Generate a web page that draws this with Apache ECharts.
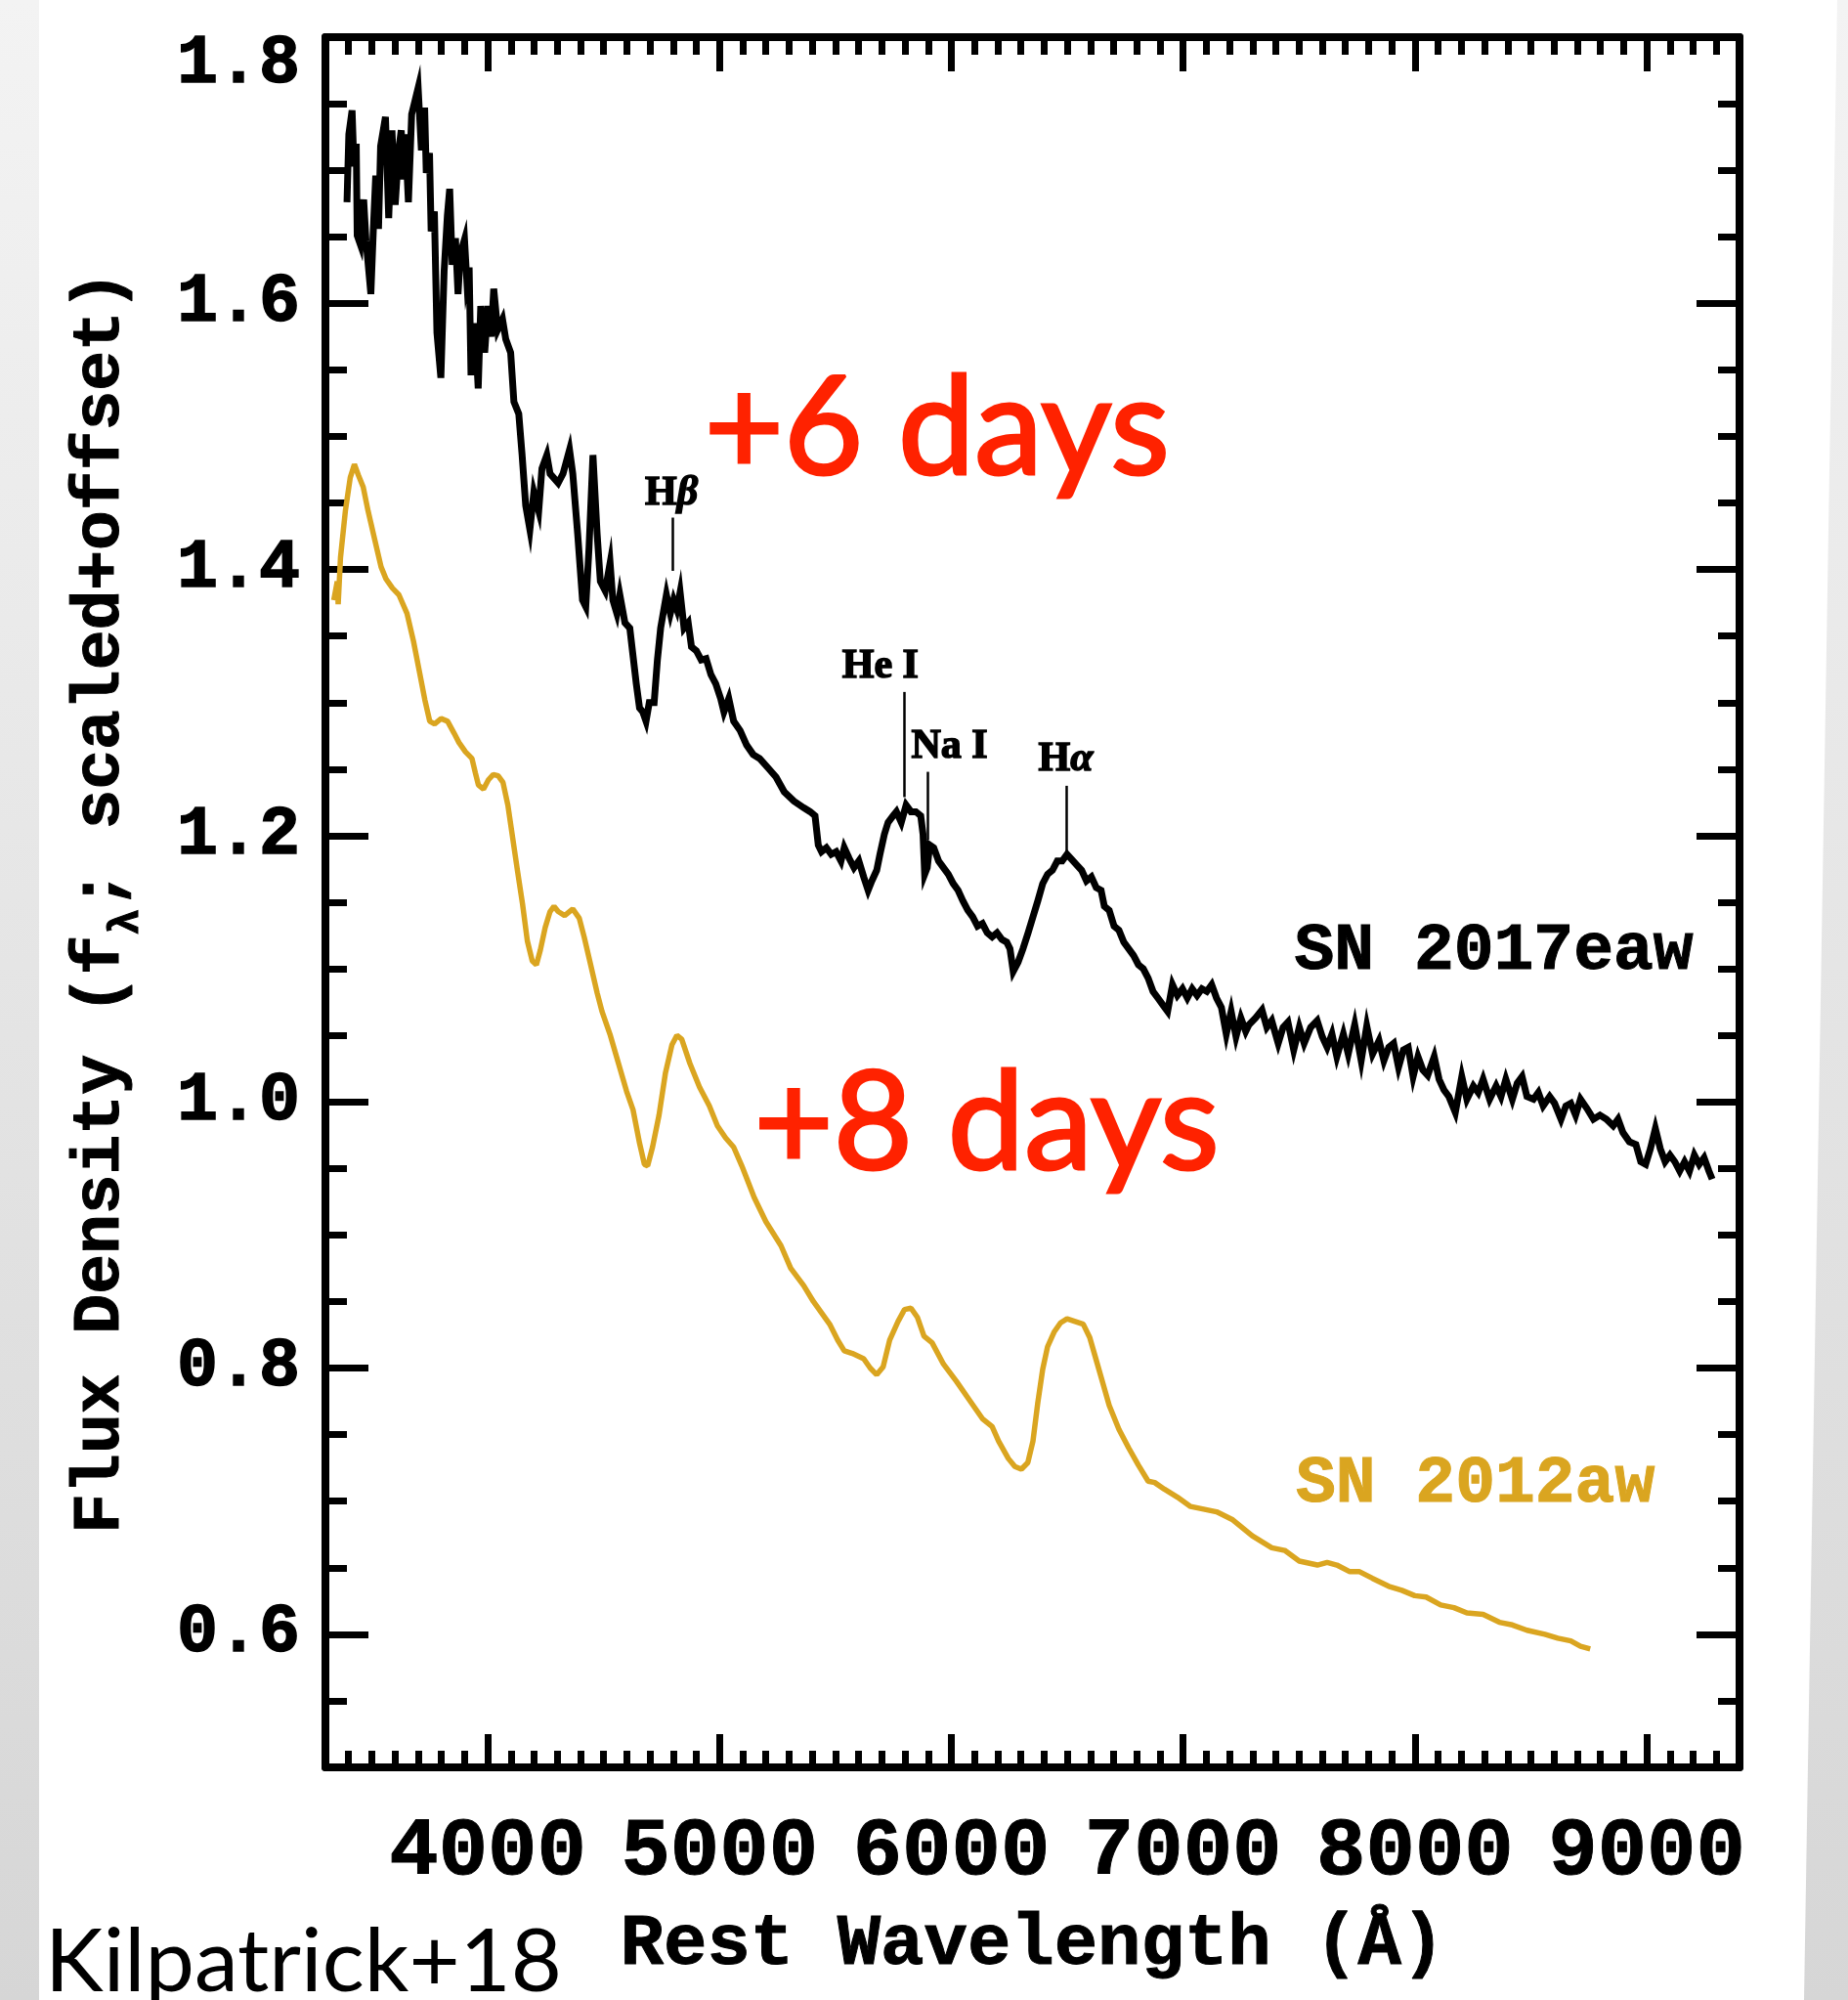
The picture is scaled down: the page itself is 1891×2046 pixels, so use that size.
<!DOCTYPE html>
<html>
<head>
<meta charset="utf-8">
<title>SN 2017eaw vs SN 2012aw</title>
<script src="https://cdn.jsdelivr.net/npm/echarts@6/dist/echarts.min.js"></script>
<style>
  html, body { margin: 0; padding: 0; background: #fff; }
  #chart { width: 1891px; height: 2046px; }
</style>
</head>
<body>
<div id="chart"></div>
<script>
// axis ticks
const waveMajor = [4000, 5000, 6000, 7000, 8000, 9000];
const fluxMajor = [0.6, 0.8, 1.0, 1.2, 1.4, 1.6, 1.8];

// SN 2017eaw (+6 days)
const eawWave = [3393, 3401, 3415, 3423, 3433, 3437, 3451, 3465, 3475, 3482, 3496, 3508, 3517, 3529, 3538, 3559, 3573, 3587, 3601, 3616,
  3627, 3637, 3644, 3658, 3672, 3700, 3714, 3728, 3735, 3749, 3756, 3770, 3781, 3798, 3812, 3826, 3836, 3847, 3861, 3872,
  3882, 3900, 3910, 3920, 3928, 3945, 3959, 3970, 3987, 4001, 4015, 4026, 4043, 4064, 4078, 4099, 4113, 4134, 4148, 4164,
  4182, 4199, 4220, 4234, 4255, 4269, 4304, 4325, 4353, 4367, 4388, 4409, 4423, 4437, 4454, 4472, 4486, 4507, 4528, 4540,
  4557, 4570, 4592, 4613, 4627, 4641, 4655, 4669, 4683, 4697, 4718, 4732, 4746, 4760, 4771, 4788, 4802, 4816, 4830, 4847,
  4865, 4879, 4900, 4921, 4942, 4963, 4984, 5005, 5019, 5040, 5061, 5089, 5117, 5145, 5173, 5209, 5244, 5279, 5321, 5363,
  5391, 5412, 5426, 5440, 5461, 5482, 5503, 5524, 5538, 5559, 5580, 5601, 5622, 5641, 5657, 5678, 5692, 5711, 5727, 5749,
  5763, 5784, 5805, 5826, 5847, 5868, 5878, 5885, 5896, 5907, 5924, 5945, 5966, 5987, 6008, 6029, 6050, 6071, 6092, 6113,
  6134, 6155, 6176, 6197, 6218, 6239, 6253, 6267, 6288, 6309, 6331, 6352, 6373, 6394, 6415, 6436, 6457, 6478, 6499, 6520,
  6541, 6562, 6583, 6604, 6625, 6646, 6660, 6681, 6702, 6723, 6744, 6765, 6786, 6807, 6828, 6849, 6870, 6891, 6912, 6933,
  6954, 6975, 6997, 7018, 7039, 7060, 7081, 7102, 7123, 7144, 7165, 7186, 7207, 7228, 7249, 7270, 7284, 7312, 7340, 7361,
  7382, 7410, 7431, 7452, 7477, 7501, 7522, 7550, 7578, 7600, 7621, 7642, 7663, 7691, 7712, 7740, 7768, 7792, 7817, 7845,
  7866, 7887, 7908, 7929, 7950, 7971, 7992, 8013, 8034, 8055, 8083, 8104, 8125, 8146, 8174, 8202, 8224, 8252, 8273, 8294,
  8322, 8350, 8371, 8392, 8420, 8441, 8462, 8483, 8511, 8532, 8553, 8581, 8602, 8630, 8651, 8672, 8693, 8714, 8742, 8770,
  8798, 8826, 8855, 8876, 8897, 8925, 8953, 8974, 8995, 9016, 9037, 9058, 9079, 9100, 9121, 9142, 9163, 9184, 9205, 9226,
  9247, 9268, 9282];
const eawFlux = [1.676, 1.727, 1.745, 1.703, 1.720, 1.651, 1.644, 1.678, 1.647, 1.634, 1.607, 1.661, 1.696, 1.656, 1.718, 1.740, 1.664, 1.730, 1.674, 1.715,
  1.730, 1.693, 1.727, 1.676, 1.742, 1.762, 1.715, 1.747, 1.698, 1.713, 1.654, 1.669, 1.578, 1.544, 1.624, 1.666, 1.686, 1.629, 1.649, 1.607,
  1.637, 1.648, 1.617, 1.627, 1.546, 1.585, 1.536, 1.598, 1.563, 1.598, 1.575, 1.611, 1.580, 1.588, 1.573, 1.563, 1.526, 1.517, 1.487, 1.448,
  1.430, 1.458, 1.444, 1.476, 1.486, 1.472, 1.465, 1.472, 1.490, 1.472, 1.427, 1.377, 1.372, 1.416, 1.486, 1.427, 1.391, 1.384, 1.405, 1.377,
  1.367, 1.381, 1.360, 1.356, 1.335, 1.314, 1.296, 1.293, 1.286, 1.300, 1.300, 1.332, 1.356, 1.370, 1.381, 1.367, 1.377, 1.370, 1.383, 1.356,
  1.360, 1.342, 1.339, 1.332, 1.333, 1.321, 1.314, 1.303, 1.293, 1.303, 1.286, 1.279, 1.268, 1.261, 1.258, 1.251, 1.244, 1.233, 1.226, 1.221,
  1.218, 1.215, 1.193, 1.188, 1.191, 1.186, 1.188, 1.181, 1.191, 1.183, 1.176, 1.181, 1.169, 1.159, 1.166, 1.174, 1.186, 1.201, 1.210, 1.215,
  1.218, 1.210, 1.223, 1.218, 1.218, 1.215, 1.201, 1.171, 1.176, 1.193, 1.191, 1.181, 1.176, 1.171, 1.164, 1.159, 1.151, 1.144, 1.139, 1.132,
  1.134, 1.127, 1.124, 1.127, 1.122, 1.120, 1.115, 1.098, 1.105, 1.115, 1.127, 1.139, 1.151, 1.164, 1.171, 1.174, 1.181, 1.181, 1.186, 1.182,
  1.178, 1.174, 1.166, 1.169, 1.161, 1.159, 1.147, 1.144, 1.132, 1.129, 1.120, 1.115, 1.110, 1.103, 1.100, 1.093, 1.083, 1.078, 1.073, 1.068,
  1.088, 1.080, 1.085, 1.078, 1.085, 1.080, 1.085, 1.083, 1.088, 1.078, 1.071, 1.051, 1.068, 1.049, 1.063, 1.053, 1.058, 1.063, 1.069, 1.056,
  1.061, 1.044, 1.056, 1.060, 1.039, 1.056, 1.044, 1.056, 1.061, 1.049, 1.041, 1.051, 1.034, 1.051, 1.036, 1.058, 1.031, 1.057, 1.036, 1.046,
  1.031, 1.041, 1.044, 1.026, 1.039, 1.041, 1.019, 1.034, 1.024, 1.020, 1.034, 1.017, 1.009, 1.004, 0.992, 1.019, 1.002, 1.012, 1.007, 1.017,
  1.002, 1.012, 1.004, 1.017, 1.002, 1.014, 1.019, 1.004, 1.002, 1.007, 0.997, 1.004, 0.999, 0.987, 0.997, 0.999, 0.990, 1.002, 0.995, 0.987,
  0.990, 0.987, 0.982, 0.987, 0.977, 0.970, 0.968, 0.955, 0.953, 0.965, 0.980, 0.965, 0.955, 0.960, 0.955, 0.948, 0.955, 0.948, 0.960, 0.953,
  0.958, 0.948, 0.942];

// SN 2012aw (+8 days)
const awWave = [3336, 3351, 3355, 3365, 3386, 3407, 3425, 3442, 3463, 3484, 3512, 3540, 3561, 3589, 3617, 3652, 3680, 3708, 3729, 3750,
  3771, 3799, 3827, 3855, 3876, 3904, 3932, 3947, 3960, 3982, 4003, 4024, 4045, 4066, 4087, 4108, 4129, 4150, 4171, 4192,
  4210, 4227, 4248, 4269, 4286, 4304, 4332, 4367, 4395, 4416, 4444, 4472, 4493, 4529, 4564, 4599, 4627, 4655, 4676, 4690,
  4711, 4739, 4767, 4795, 4816, 4837, 4872, 4914, 4956, 4991, 5026, 5061, 5096, 5150, 5200, 5265, 5307, 5363, 5405, 5475,
  5510, 5538, 5573, 5622, 5650, 5678, 5706, 5734, 5770, 5798, 5826, 5854, 5882, 5917, 5966, 6022, 6078, 6134, 6176, 6204,
  6246, 6274, 6302, 6330, 6352, 6373, 6394, 6415, 6443, 6471, 6499, 6534, 6569, 6597, 6625, 6653, 6681, 6723, 6765, 6807,
  6849, 6877, 6919, 6975, 7032, 7088, 7144, 7214, 7298, 7382, 7438, 7501, 7579, 7621, 7663, 7719, 7761, 7817, 7887, 7943,
  7999, 8048, 8111, 8168, 8224, 8294, 8364, 8420, 8483, 8560, 8616, 8672, 8714, 8756];
const awFlux = [1.377, 1.391, 1.374, 1.409, 1.444, 1.469, 1.479, 1.471, 1.462, 1.444, 1.423, 1.402, 1.393, 1.386, 1.381, 1.367, 1.346, 1.321, 1.302, 1.286,
  1.284, 1.288, 1.286, 1.277, 1.270, 1.263, 1.258, 1.247, 1.238, 1.235, 1.242, 1.246, 1.245, 1.240, 1.223, 1.198, 1.173, 1.149, 1.121, 1.106,
  1.103, 1.114, 1.131, 1.143, 1.147, 1.143, 1.140, 1.145, 1.138, 1.124, 1.103, 1.082, 1.068, 1.050, 1.029, 1.008, 0.994, 0.969, 0.953, 0.952,
  0.966, 0.990, 1.022, 1.043, 1.050, 1.047, 1.029, 1.011, 0.997, 0.982, 0.973, 0.966, 0.952, 0.928, 0.910, 0.892, 0.875, 0.862, 0.850, 0.833,
  0.821, 0.813, 0.811, 0.807, 0.800, 0.795, 0.801, 0.821, 0.835, 0.844, 0.845, 0.838, 0.824, 0.819, 0.803, 0.790, 0.776, 0.762, 0.756, 0.745,
  0.732, 0.726, 0.724, 0.729, 0.745, 0.774, 0.799, 0.816, 0.827, 0.834, 0.837, 0.835, 0.833, 0.823, 0.806, 0.789, 0.772, 0.754, 0.740, 0.727,
  0.715, 0.714, 0.709, 0.703, 0.696, 0.694, 0.692, 0.686, 0.674, 0.665, 0.663, 0.655, 0.652, 0.654, 0.652, 0.647, 0.647, 0.642, 0.636, 0.633,
  0.629, 0.628, 0.622, 0.620, 0.616, 0.615, 0.609, 0.607, 0.603, 0.600, 0.597, 0.595, 0.591, 0.589];

// line identifications: marker wavelength, marker top/bottom, label anchor
const lineNames = ['H{g|β}', 'He I', 'Na I', 'H{g|α}'];
const lineWave = [4798, 5795, 5896, 6495];
const lineTop = [1.439, 1.308, 1.248, 1.2375];
const lineBottom = [1.399, 1.229, 1.197, 1.187];
const lineLabelWave = [4793, 5694, 5992, 6493];
const lineLabelFlux = [1.457, 1.327, 1.267, 1.257];

// object names and epochs
const snNames = ['SN 2017eaw', 'SN 2012aw'];
const snWave = [8340, 8260];
const snFlux = [1.113, 0.712];
const epochText = ['+6 days', '+8 days'];
const epochWave = [5938, 6152];
const epochFlux = [1.505, 0.983];

const mono = 'Liberation Mono';
const gold = '#DAA520';
const red = '#ff2200';

const chart = echarts.init(document.getElementById('chart'));

const zip = (xs, ys) => xs.map((x, i) => [x, ys[i]]);

// frame axes: each side gets one axis for major and one for minor ticks
function frameAxis(pos, min, max, extra) {
  return Object.assign({
    type: 'value',
    position: pos,
    min: min,
    max: max,
    splitLine: { show: false },
    axisLabel: { show: false },
    axisLine: { show: false, onZero: false },
    silent: true
  }, extra);
}

const tickStyle = { color: '#000', width: 7 };
const lineStyleAxis = { color: '#000', width: 8 };
// invisible anchor points that only carry text
const textItem = { color: 'rgba(0,0,0,0)', opacity: 1 };

const option = {
  animation: false,
  backgroundColor: '#fff',
  graphic: [
    {
      type: 'rect', z: -10,
      shape: { x: 0, y: 0, width: 40, height: 2046 },
      style: { fill: new echarts.graphic.LinearGradient(0, 0, 0, 1, [
        { offset: 0, color: '#f3f3f3' }, { offset: 1, color: '#d6d6d6' }]) }
    },
    {
      type: 'polygon', z: -10,
      shape: { points: [[1880, 0], [1891, 0], [1891, 2046], [1846, 2046]] },
      style: { fill: new echarts.graphic.LinearGradient(0, 0, 0, 1, [
        { offset: 0, color: '#f3f3f3' }, { offset: 1, color: '#d6d6d6' }]) }
    },
    {
      type: 'text',
      style: { text: 'Kilpatrick+18', x: 46, y: 2008, font: '90px Lato', fill: '#000', verticalAlign: 'middle' }
    }
  ],
  grid: { left: 333, right: 111, top: 38, bottom: 238, outerBoundsMode: 'none' },
  xAxis: [
    frameAxis('bottom', 3300, 9400, {
      axisLine: { show: true, onZero: false, lineStyle: lineStyleAxis },
      axisTick: { show: true, inside: true, length: 34, lineStyle: tickStyle, customValues: waveMajor },
      axisLabel: {
        show: true, customValues: waveMajor, hideOverlap: false, margin: 46,
        formatter: v => String(v),
        fontFamily: mono, fontWeight: 'bold', fontSize: 84, color: '#000',
        textBorderColor: '#000', textBorderWidth: 1
      },
      name: 'Rest Wavelength (Å)',
      nameLocation: 'middle',
      nameGap: 145,
      nameTextStyle: { fontFamily: mono, fontWeight: 'bold', fontSize: 74, color: '#000', textBorderColor: '#000', textBorderWidth: 1 }
    }),
    frameAxis('bottom', 3300, 9400, {
      interval: 100,
      axisTick: { show: true, inside: true, length: 17, lineStyle: tickStyle }
    }),
    frameAxis('top', 3300, 9400, {
      axisLine: { show: true, onZero: false, lineStyle: lineStyleAxis },
      axisTick: { show: true, inside: true, length: 35, lineStyle: tickStyle, customValues: waveMajor }
    }),
    frameAxis('top', 3300, 9400, {
      interval: 100,
      axisTick: { show: true, inside: true, length: 18, lineStyle: tickStyle }
    })
  ],
  yAxis: [
    frameAxis('left', 0.5, 1.8, {
      axisLine: { show: true, onZero: false, lineStyle: lineStyleAxis },
      axisTick: { show: true, inside: true, length: 44, lineStyle: tickStyle, customValues: fluxMajor },
      axisLabel: {
        show: true, customValues: fluxMajor, hideOverlap: false, margin: 26,
        fontFamily: mono, fontWeight: 'bold', fontSize: 70, color: '#000',
        textBorderColor: '#000', textBorderWidth: 1.5,
        formatter: v => Math.abs(v - 1.8) < 1e-6 ? '{top|1.8}' : v.toFixed(1),
        rich: { top: { fontFamily: mono, fontWeight: 'bold', fontSize: 70, color: '#000', textBorderColor: '#000', textBorderWidth: 1.5, padding: [56, 0, 0, 0] } }
      },
      name: 'Flux Density (f{sub|λ}; scaled+offset)',
      nameLocation: 'middle',
      nameRotate: 90,
      nameGap: 195,
      nameTextStyle: {
        fontFamily: mono, fontWeight: 'bold', fontSize: 68, color: '#000', textBorderColor: '#000', textBorderWidth: 1,
        rich: { sub: { fontFamily: mono, fontWeight: 'bold', fontSize: 44, color: '#000', verticalAlign: 'bottom', padding: [0, 0, -14, 0] } }
      }
    }),
    frameAxis('left', 0.5, 1.8, {
      interval: 0.05,
      axisTick: { show: true, inside: true, length: 22, lineStyle: tickStyle }
    }),
    frameAxis('right', 0.5, 1.8, {
      axisLine: { show: true, onZero: false, lineStyle: lineStyleAxis },
      axisTick: { show: true, inside: true, length: 44, lineStyle: tickStyle, customValues: fluxMajor }
    }),
    frameAxis('right', 0.5, 1.8, {
      interval: 0.05,
      axisTick: { show: true, inside: true, length: 22, lineStyle: tickStyle }
    })
  ],
  series: [
    {
      name: 'SN 2012aw',
      type: 'line',
      data: zip(awWave, awFlux),
      showSymbol: false,
      silent: true,
      lineStyle: { color: gold, width: 5.5 }
    },
    {
      name: 'SN 2017eaw',
      type: 'line',
      data: zip(eawWave, eawFlux),
      showSymbol: false,
      silent: true,
      lineStyle: { color: '#000', width: 7, join: 'miter' }
    },
    {
      name: 'line ids',
      type: 'scatter',
      silent: true,
      symbolSize: 1,
      itemStyle: textItem,
      data: lineNames.map((n, i) => ({ name: n, value: [lineLabelWave[i], lineLabelFlux[i]] })),
      label: {
        show: true, position: 'inside', formatter: '{b}', opacity: 1,
        fontFamily: 'Liberation Serif', fontWeight: 'bold', fontSize: 42, color: '#000',
        textBorderColor: '#000', textBorderWidth: 1.5,
        rich: { g: { fontFamily: 'Liberation Serif', fontWeight: 'bold', fontStyle: 'italic', fontSize: 42, color: '#000', textBorderColor: '#000', textBorderWidth: 1.5 } }
      },
      markLine: {
        silent: true,
        symbol: ['none', 'none'],
        label: { show: false },
        lineStyle: { color: '#000', width: 2.5, type: 'solid', opacity: 1 },
        data: lineWave.map((w, i) => [{ coord: [w, lineTop[i]] }, { coord: [w, lineBottom[i]] }])
      }
    },
    {
      name: 'sn names',
      type: 'scatter',
      silent: true,
      symbolSize: 1,
      itemStyle: textItem,
      data: snNames.map((n, i) => ({
        name: n, value: [snWave[i], snFlux[i]],
        label: { color: i === 0 ? '#000' : gold, textBorderColor: i === 0 ? '#000' : gold }
      })),
      label: { show: true, position: 'inside', formatter: '{b}', opacity: 1, fontFamily: mono, fontWeight: 'bold', fontSize: 68, textBorderWidth: 1 }
    },
    {
      name: 'epochs',
      type: 'scatter',
      silent: true,
      symbolSize: 1,
      itemStyle: textItem,
      data: epochText.map((n, i) => ({ name: n, value: [epochWave[i], epochFlux[i]] })),
      label: {
        show: true, position: 'inside', formatter: '{b}', opacity: 1, fontFamily: 'Lato', fontSize: 140,
        color: red, textBorderColor: red, textBorderWidth: 3
      }
    }
  ]
};

chart.setOption(option);
window.addEventListener('resize', () => chart.resize());
</script>
</body>
</html>
